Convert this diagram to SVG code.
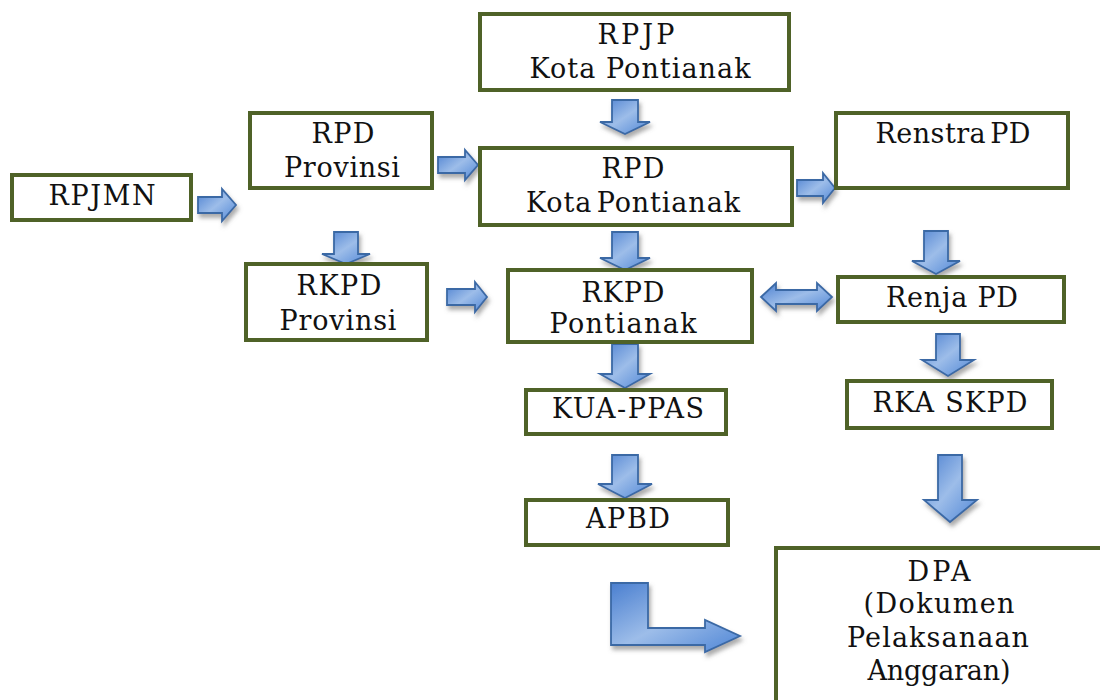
<svg xmlns="http://www.w3.org/2000/svg" width="1100" height="700" viewBox="0 0 1100 700">
<defs>
<linearGradient id="g" x1="0" y1="0" x2="1" y2="1">
<stop offset="0" stop-color="#4a7fd0"/>
<stop offset="0.5" stop-color="#9dbde9"/>
<stop offset="1" stop-color="#4f86d6"/>
</linearGradient>
<filter id="sh" x="-30%" y="-30%" width="170%" height="170%">
<feDropShadow dx="2" dy="4" stdDeviation="2" flood-color="#666" flood-opacity="0.55"/>
</filter>
<style>
.box{fill:#fff;stroke:#4f6228;stroke-width:4}
.t{font-family:"DejaVu Serif","Liberation Serif",serif;font-size:27px;fill:#111;text-anchor:middle}
.ar{fill:url(#g);stroke:#3b69a5;stroke-width:1.8;stroke-linejoin:miter;filter:url(#sh)}
</style>
</defs>
<rect width="1100" height="700" fill="#fff"/>
<g id="connectors">
<path class="ar" d="M612,100 H638 V122 H650 L625,134 L600,122 H612 Z"/>
<path class="ar" d="M334,232 H358 V254 H370 L346,264 L322,254 H334 Z"/>
<path class="ar" d="M612,232 H638 V258 H650 L625,270 L600,258 H612 Z"/>
<path class="ar" d="M924,231 H948 V261 H960 L936,274 L912,261 H924 Z"/>
<path class="ar" d="M936,334 H960 V360 H974 L948,376 L922,360 H936 Z"/>
<path class="ar" d="M612,344 H638 V374 H650 L625,388 L600,374 H612 Z"/>
<path class="ar" d="M612,455 H638 V484 H652 L625,498 L598,484 H612 Z"/>
<path class="ar" d="M938,455 H962 V500 H977 L950,522 L924,500 H938 Z"/>
<path class="ar" d="M198,197 H222 V189 L236,205 L222,221 V213 H198 Z"/>
<path class="ar" d="M438,157 H465 V150 L478,165 L465,180 V173 H438 Z"/>
<path class="ar" d="M447,289 H475 V282 L487,297 L475,312 V305 H447 Z"/>
<path class="ar" d="M797,180 H823 V173 L835,188 L823,203 V196 H797 Z"/>
<path class="ar" d="M761,297 L776,283 V290 H817 V283 L832,297 L817,311 V304 H776 V311 Z"/>
<path class="ar" d="M611,583 H648 V628 H705 V620 L740,636 L705,652 V645 H611 Z"/>
</g>
<g id="rpjmn"><rect class="box" x="12" y="175" width="179" height="45"/><text class="t" x="102" y="205" textLength="107" lengthAdjust="spacing">RPJMN</text></g>
<g id="rpd-provinsi"><rect class="box" x="250" y="113" width="182" height="75"/><text class="t" x="343" y="143" textLength="63" lengthAdjust="spacing">RPD</text><text class="t" x="342" y="177" textLength="116" lengthAdjust="spacing">Provinsi</text></g>
<g id="rpjp"><rect class="box" x="480" y="14" width="309" height="76"/><text class="t" x="636" y="44" textLength="77" lengthAdjust="spacing">RPJP</text><text class="t" x="640" y="78" textLength="221" lengthAdjust="spacing">Kota Pontianak</text></g>
<g id="rpd-kota"><rect class="box" x="480" y="148" width="312" height="77"/><text class="t" x="633" y="178" textLength="63" lengthAdjust="spacing">RPD</text><text class="t" x="633" y="212" textLength="214" lengthAdjust="spacing" word-spacing="-5">Kota Pontianak</text></g>
<g id="renstra"><rect class="box" x="836" y="113" width="232" height="75"/><text class="t" x="953" y="143" textLength="155" lengthAdjust="spacing" word-spacing="-5">Renstra PD</text></g>
<g id="rkpd-provinsi"><rect class="box" x="246" y="264" width="181" height="76"/><text class="t" x="339" y="295" textLength="85" lengthAdjust="spacing">RKPD</text><text class="t" x="338" y="330" textLength="117" lengthAdjust="spacing">Provinsi</text></g>
<g id="rkpd-pontianak"><rect class="box" x="508" y="270" width="244" height="72"/><text class="t" x="623" y="302" textLength="83" lengthAdjust="spacing">RKPD</text><text class="t" x="623" y="333" textLength="147" lengthAdjust="spacing">Pontianak</text></g>
<g id="renja"><rect class="box" x="838" y="277" width="226" height="45"/><text class="t" x="952" y="307" textLength="132" lengthAdjust="spacing">Renja PD</text></g>
<g id="rka"><rect class="box" x="847" y="381" width="205" height="47"/><text class="t" x="950" y="412" textLength="155" lengthAdjust="spacing">RKA SKPD</text></g>
<g id="kua"><rect class="box" x="526" y="390" width="200" height="44"/><text class="t" x="628" y="418" textLength="152" lengthAdjust="spacing">KUA-PPAS</text></g>
<g id="apbd"><rect class="box" x="526" y="500" width="202" height="45"/><text class="t" x="628" y="528" textLength="84" lengthAdjust="spacing">APBD</text></g>
<g id="dpa"><rect class="box" x="776" y="548" width="340" height="170"/><text class="t" x="939" y="581" textLength="63" lengthAdjust="spacing">DPA</text><text class="t" x="939" y="613" textLength="151" lengthAdjust="spacing">(Dokumen</text><text class="t" x="938" y="647" textLength="182" lengthAdjust="spacing">Pelaksanaan</text><text class="t" x="939" y="680" textLength="143" lengthAdjust="spacing">Anggaran)</text></g>
</svg>
